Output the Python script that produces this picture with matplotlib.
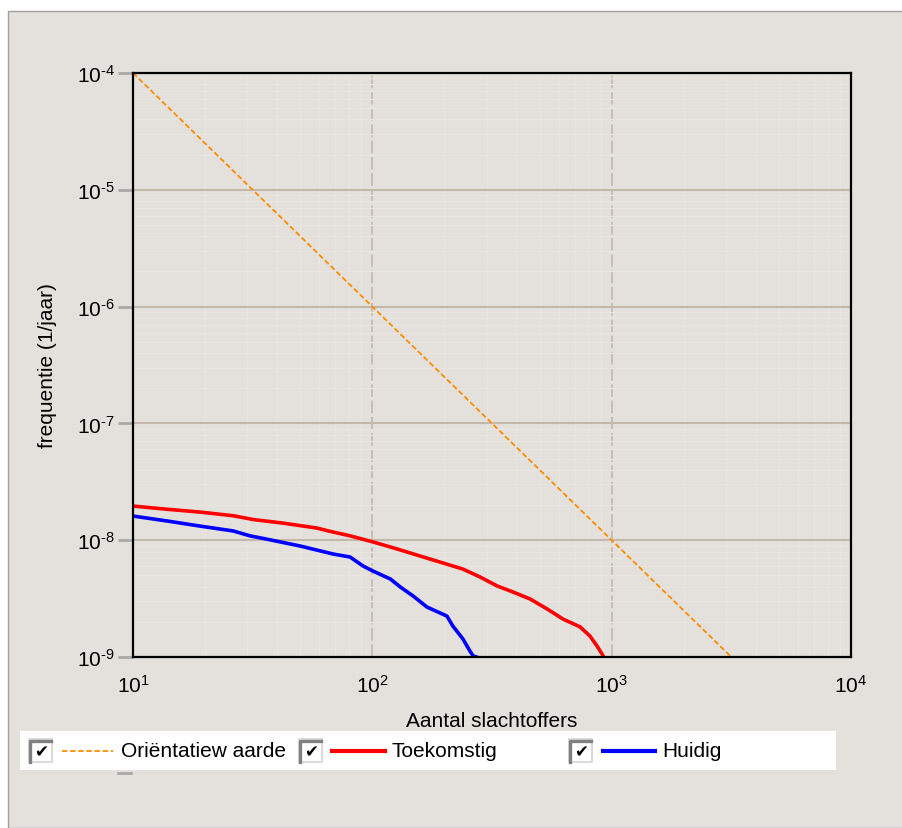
import matplotlib
matplotlib.use("Agg")
import matplotlib.pyplot as plt
from matplotlib.patches import Rectangle
from matplotlib.lines import Line2D
from matplotlib.ticker import LogLocator, FuncFormatter, NullFormatter
import numpy as np

# Data (N = number of victims, F = frequency per year)
orient_n = [10, 3162]
orient_f = [1e-4, 1e-9]

toekomstig_n = [10, 13.9, 19.1, 26.2, 32, 42.4, 58.7, 66.6, 80.7, 100.7, 127, 174, 239,
                282, 332, 387, 456, 537, 627, 738, 812, 869, 912, 925]
toekomstig_f = [1.96e-8, 1.84e-8, 1.74e-8, 1.62e-8, 1.50e-8, 1.40e-8, 1.27e-8, 1.19e-8,
                1.09e-8, 9.66e-9, 8.41e-9, 6.90e-9, 5.66e-9, 4.84e-9, 4.06e-9, 3.60e-9,
                3.14e-9, 2.58e-9, 2.11e-9, 1.81e-9, 1.51e-9, 1.24e-9, 1.06e-9, 1.0e-9]

huidig_n = [10, 13.9, 19.1, 26.2, 30.8, 36.3, 49.9, 68.5, 80.7, 91.5, 100.7, 119, 131, 148,
            169, 205, 217, 239, 256, 264, 272]
huidig_f = [1.61e-8, 1.46e-8, 1.32e-8, 1.20e-8, 1.09e-8, 1.02e-8, 8.92e-9, 7.62e-9, 7.18e-9,
            6.01e-9, 5.44e-9, 4.65e-9, 3.97e-9, 3.33e-9, 2.68e-9, 2.24e-9, 1.84e-9, 1.43e-9,
            1.12e-9, 1.02e-9, 1.0e-9]

legend_labels = ["Oriëntatiew aarde", "Toekomstig", "Huidig"]
legend_colors = ["#ff8c00", "#ff0000", "#0000ff"]

BG = "#e4e1dc"
W, H = 903, 829

plt.rcParams["font.family"] = ["Liberation Sans", "DejaVu Sans"]
plt.rcParams["mathtext.fontset"] = "custom"
plt.rcParams["mathtext.rm"] = "Liberation Sans"
plt.rcParams["mathtext.it"] = "Liberation Sans:italic"
plt.rcParams["mathtext.bf"] = "Liberation Sans:bold"
plt.rcParams["mathtext.default"] = "regular"


def fx(px):
    return px / W


def fy(py):
    return 1 - py / H


def pow_label(v, _):
    e = int(round(np.log10(v)))
    s = str(abs(e))
    if e < 0:
        s = "\u2010" + s
    return f"$10^{{{s}}}$"


fig = plt.figure(figsize=(W / 100, H / 100), dpi=100)
fig.patch.set_facecolor("white")
fig.add_artist(Rectangle((fx(8), 0), 1, fy(12), transform=fig.transFigure,
                         facecolor=BG, edgecolor="#a0a0a0", lw=1, zorder=0))

ax = fig.add_axes([fx(133), fy(658), 718 / W, 584 / H])
ax.set_facecolor(BG)
ax.set_xscale("log")
ax.set_yscale("log")
ax.set_xlim(10, 1e4)
ax.set_ylim(1e-9, 1e-4)

# grid
ax.xaxis.set_major_locator(LogLocator(base=10, numticks=10))
ax.yaxis.set_major_locator(LogLocator(base=10, numticks=10))
ax.xaxis.set_minor_locator(LogLocator(base=10, subs=np.arange(2, 10), numticks=20))
ax.yaxis.set_minor_locator(LogLocator(base=10, subs=np.arange(2, 10), numticks=20))
ax.grid(True, which="minor", color="#e9e6e2", lw=1)
ax.yaxis.grid(True, which="major", color="#c4b8aa", lw=1.5)
ax.xaxis.grid(True, which="major", color="#c6bcb0", lw=1.3, linestyle=(0, (7, 2)))
ax.set_axisbelow(True)

fmt = FuncFormatter(pow_label)
ax.xaxis.set_major_formatter(fmt)
ax.yaxis.set_major_formatter(fmt)
ax.xaxis.set_minor_formatter(NullFormatter())
ax.yaxis.set_minor_formatter(NullFormatter())
ax.tick_params(axis="y", which="major", direction="out", length=11, width=2,
               color="#a8a8a8", pad=2, labelsize=15)
ax.tick_params(axis="x", which="major", length=0, pad=12, labelsize=15)
ax.tick_params(which="minor", length=0)

for s in ax.spines.values():
    s.set_color("black")
    s.set_linewidth(1.6)

ax.plot(orient_n, orient_f, color=legend_colors[0], lw=1.3, linestyle=(0, (3, 1.5)))
ax.plot(toekomstig_n, toekomstig_f, color=legend_colors[1], lw=2.6)
ax.plot(huidig_n, huidig_f, color=legend_colors[2], lw=2.6)

ax.set_xlabel("Aantal slachtoffers", fontsize=15, va="center")
ax.xaxis.set_label_coords(0.5, (658 - 722) / 584)
ax.set_ylabel("frequentie (1/jaar)", fontsize=15, va="center")
ax.yaxis.set_label_coords((47 - 133) / 718, 0.5)

# legend with checkboxes
fig.add_artist(Rectangle((fx(20), fy(771)), 816 / W, 39 / H, transform=fig.transFigure,
                         facecolor="white", edgecolor="none", zorder=1))
box_x = [29, 299, 569]
line_x = [(62, 113), (332, 385), (603, 655)]
text_x = [121, 392, 662]
yc = 752
for i, lab in enumerate(legend_labels):
    bx = box_x[i]
    fig.add_artist(Rectangle((fx(bx), fy(763)), 23 / W, 23 / H, transform=fig.transFigure,
                             facecolor="white", edgecolor="#d4d4d4", lw=1.2, zorder=2))
    fig.add_artist(Line2D([fx(bx + 1.5), fx(bx + 1.5), fx(bx + 22)], [fy(763), fy(741.5), fy(741.5)],
                          transform=fig.transFigure, color="#808080", lw=2.4, zorder=3))
    fig.text(fx(bx + 12), fy(yc + 0.5), "✔", fontsize=12, ha="center", va="center",
             family=["DejaVu Sans"], color="black", zorder=4)
    ls = (0, (3, 1.5)) if i == 0 else "-"
    lw = 1.3 if i == 0 else 3
    fig.add_artist(Line2D([fx(line_x[i][0]), fx(line_x[i][1])], [fy(yc), fy(yc)],
                          transform=fig.transFigure, color=legend_colors[i], lw=lw,
                          linestyle=ls, zorder=3))
    fig.text(fx(text_x[i]), fy(yc), lab, fontsize=15, ha="left", va="center", zorder=4)

# small leftover tick mark below the legend
fig.add_artist(Line2D([fx(118), fx(131)], [fy(774), fy(774)], transform=fig.transFigure,
                      color="#a8a8a8", lw=2, zorder=2))

fig.savefig("out.png", dpi=100, facecolor=fig.get_facecolor())
